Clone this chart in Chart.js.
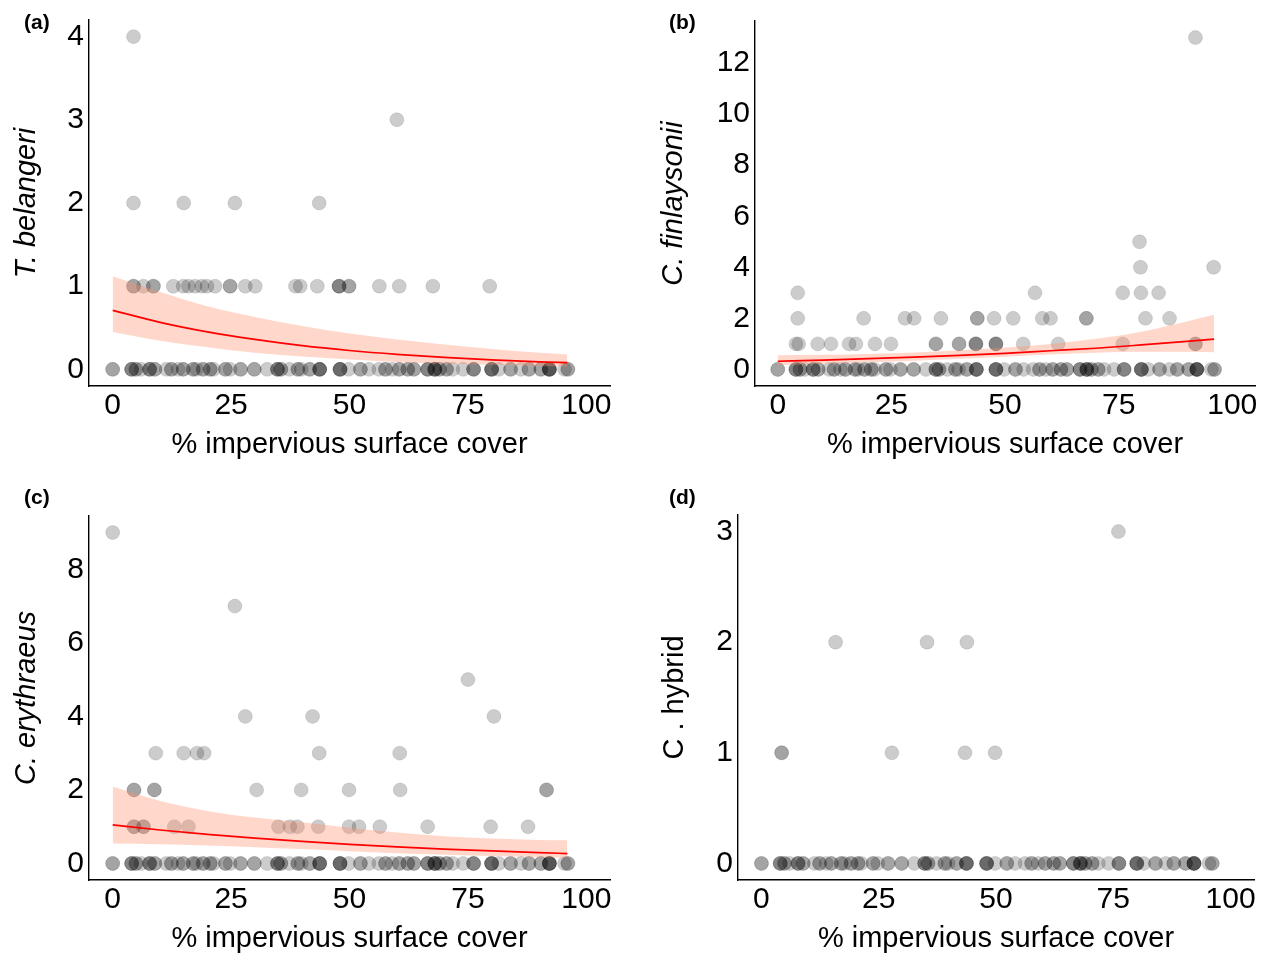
<!DOCTYPE html>
<html><head><meta charset="utf-8">
<script src="https://cdn.jsdelivr.net/npm/chart.js@4.4.1/dist/chart.umd.min.js"></script>
<style>
html,body{margin:0;padding:0;background:#fff;overflow:hidden;width:1266px;height:953px;position:relative;}
canvas{position:absolute;left:0;top:0;}
.lbl{position:absolute;font:bold 21px "Liberation Sans",Arial,sans-serif;line-height:1;color:#000;}
</style></head><body>
<canvas id="pa" width="1266" height="1000"></canvas>
<canvas id="pb" width="1266" height="1000"></canvas>
<canvas id="pc" width="1266" height="1000"></canvas>
<canvas id="pd" width="1266" height="1000"></canvas>
<div class="lbl" style="left:24px;top:11px">(a)</div>
<div class="lbl" style="left:669px;top:11px">(b)</div>
<div class="lbl" style="left:24px;top:486px">(c)</div>
<div class="lbl" style="left:669px;top:486px">(d)</div>
<script>
// ---------- data ----------
const xTicks = [0, 25, 50, 75, 100];
const xTitle = '% impervious surface cover';

// sites with zero count (shared row at y = 0)
const zeroRowX = [0,0, 4.0,4.0,4.0, 4.9,4.9, 6.0, 7.8,7.8,7.8, 8.9,8.9, 11.3, 12.4,12.4, 13.8, 14.9,14.9,
  17.0,17.0, 17.7, 19.1,19.1, 20.6,20.6, 21.3, 23.8,23.8, 24.8, 27.0,27.0, 29.9,29.9, 32.6, 34.8,34.8,34.8,
  35.5,35.5, 37.3, 39.1,39.1, 39.8, 41.6,41.6, 43.7,43.7,43.7,43.7, 48.0,48.0,48.0,48.0, 49.8, 52.3,52.3,
  54.1, 56.2, 57.6,57.6, 59.0, 60.5,60.5, 62.3,62.3, 63.6,63.6, 66.5,66.5,66.5, 68.0,68.0,68.0,68.0,
  69.0,69.0, 70.5,70.5, 71.8, 74.0, 76.2,76.2,76.2, 80.0,80.0,80.0,80.0, 81.5, 84.0,84.0, 86.2,
  87.9,87.9, 90.4,90.4, 92.2,92.2,92.2,92.2,92.2, 95.4, 96.1,96.1];

// (a) T. belangeri
const tbCount1 = [4.4,4.4,6.5,8.6,8.6,12.8,14.9,16,17.4,18.8,19.9,21.6,24.8,24.8,28,30.1,38.6,39.6,43.2,47.8,47.8,47.8,49.9,49.9,56.3,60.5,67.6,79.6];
const tbCount2 = [4.4,15,25.8,43.6];
const tbCount3 = [60];
const tbCount4 = [4.4];
// (b) C. finlaysonii
const cfCount1 = [4.0,4.6,8.8,11.7,15.7,17.2,21.4,24.9,34.8,34.8,39.9,39.9,43.6,43.6,43.6,48.0,48.0,48.0,54.0,61.7,75.9,91.9,91.9];
const cfCount2 = [4.4,18.9,28.0,30.0,35.9,43.9,43.9,47.6,51.8,58.2,60.0,67.9,67.9,80.9,86.2];
const cfCount3 = [4.4,56.6,75.9,79.9,83.8];
const cfCount4 = [79.8,95.9];
const cfCount5 = [79.6];
const cfCount13 = [91.9];
// (c) C. erythraeus
const ceCount1 = [4.5,4.5,6.5,6.5,13,16,35,37.4,39,43.4,49.9,52,56.4,66.5,79.8,87.7];
const ceCount2 = [4.5,4.5,8.8,8.8,30.4,39.8,49.9,60.7,91.6,91.6];
const ceCount3 = [9.1,15,17.8,19.3,43.6,60.6];
const ceCount4 = [28,42.2,80.5];
const ceCount5 = [75];
const ceCount7 = [25.8];
const ceCount9 = [0];
// (d) C. hybrid
const chCount1 = [4.3,4.3,27.8,43.4,49.8];
const chCount2 = [15.8,35.3,43.8];
const chCount3 = [76.1];

// fitted curves with confidence band
const fitX   = [0, 10, 20, 30, 40, 50, 60, 70, 80, 90, 96];
const aFit   = [0.71,0.565,0.45,0.36,0.285,0.227,0.181,0.144,0.115,0.091,0.08];
const aUpper = [1.12,0.93,0.76,0.63,0.52,0.43,0.36,0.30,0.245,0.20,0.18];
const aLower = [0.45,0.345,0.265,0.20,0.155,0.12,0.09,0.07,0.054,0.041,0.035];
const bFit   = [0.32,0.367,0.42,0.48,0.55,0.63,0.73,0.83,0.96,1.10,1.19];
const bUpper = [0.55,0.57,0.60,0.66,0.75,0.86,1.0,1.2,1.48,1.88,2.14];
const bLower = [0.17,0.22,0.28,0.34,0.42,0.5,0.58,0.65,0.69,0.69,0.67];
const cFit   = [1.05,0.91,0.79,0.69,0.6,0.52,0.45,0.39,0.34,0.295,0.27];
const cUpper = [2.09,1.7,1.43,1.25,1.12,0.97,0.84,0.74,0.68,0.64,0.63];
const cLower = [0.54,0.52,0.49,0.44,0.39,0.33,0.28,0.24,0.2,0.17,0.16];

const aYTicks = [0,1,2,3,4];
const bYTicks = [0,2,4,6,8,10,12];
const cYTicks = [0,2,4,6,8];
const dYTicks = [0,1,2,3];

// ---------- helpers ----------
const FONT = '"Liberation Sans", Arial, Helvetica, sans-serif';
Chart.defaults.font.family = FONT;

function buildPoints(levels) {
  const out = zeroRowX.map(x => ({x: x, y: 0}));
  levels.forEach(([count, xs]) => xs.forEach(x => out.push({x: x, y: count})));
  return out;
}
function series(ys) { return fitX.map((x, i) => ({x: x, y: ys[i]})); }

function makePanel(id, area, yMin, yMax, yTicks, yTitle, italic, points, fit) {
  const W = 1266, H = 1000;
  const titleSize = 29, TL = titleSize * 1.2 / 2;
  const scaleLeft = area.tx - TL;
  const yW = area.l - scaleLeft;
  const xH = 59.4 + TL;
  const datasets = [];
  if (fit) {
    datasets.push({data: series(fit.up), borderWidth: 0, borderColor: 'transparent', pointRadius: 0,
      fill: '+1', backgroundColor: 'rgba(255,140,105,0.35)', order: 2, cubicInterpolationMode: 'monotone'});
    datasets.push({data: series(fit.lo), borderWidth: 0, borderColor: 'transparent', pointRadius: 0,
      fill: false, order: 2, cubicInterpolationMode: 'monotone'});
    datasets.push({data: series(fit.mid), borderColor: '#ff0000', borderWidth: 1.7, pointRadius: 0,
      fill: false, order: 1, cubicInterpolationMode: 'monotone'});
  }
  datasets.push({data: points, showLine: false, pointRadius: 7, pointBackgroundColor: 'rgba(0,0,0,0.2)',
    pointBorderColor: 'rgba(0,0,0,0.1)', pointBorderWidth: 1, order: 3});

  new Chart(document.getElementById(id), {
    type: 'line',
    data: {datasets: datasets},
    options: {
      responsive: false, animation: false, devicePixelRatio: 1, events: [],
      layout: {padding: {left: scaleLeft, top: area.t, right: W - area.r, bottom: H - area.b - xH}},
      plugins: {legend: {display: false}, tooltip: {enabled: false}},
      scales: {
        x: {
          type: 'linear', min: -5, max: 105,
          grid: {display: false, drawTicks: false},
          border: {display: true, color: '#000', width: 1.4},
          afterBuildTicks: s => { s.ticks = xTicks.map(v => ({value: v})); },
          afterFit: s => { s.height = xH; },
          ticks: {color: '#000', font: {size: 30, lineHeight: 1}, padding: 5, maxRotation: 0, autoSkip: false},
          title: {display: true, text: xTitle, color: '#000', font: {size: titleSize, lineHeight: 1.2}, padding: 0}
        },
        y: {
          type: 'linear', min: yMin, max: yMax,
          grid: {display: false, drawTicks: false},
          border: {display: true, color: '#000', width: 1.4},
          afterBuildTicks: s => { s.ticks = yTicks.map(v => ({value: v})); },
          afterFit: s => { s.width = yW; },
          ticks: {color: '#000', font: {size: 30, lineHeight: 1}, padding: 5, autoSkip: false},
          title: {display: true, text: yTitle, color: '#000',
            font: {size: titleSize, lineHeight: 1.2, style: italic ? 'italic' : 'normal'}, padding: 0}
        }
      }
    }
  });
}

makePanel('pa', {l: 89, r: 610, t: 20, b: 386, tx: 27}, -0.2, 4.2, aYTicks, 'T. belangeri', true,
  buildPoints([[1, tbCount1], [2, tbCount2], [3, tbCount3], [4, tbCount4]]),
  {mid: aFit, up: aUpper, lo: aLower});
makePanel('pb', {l: 755, r: 1255, t: 21, b: 386, tx: 674}, -0.65, 13.65, bYTicks, 'C. finlaysonii', true,
  buildPoints([[1, cfCount1], [2, cfCount2], [3, cfCount3], [4, cfCount4], [5, cfCount5], [13, cfCount13]]),
  {mid: bFit, up: bUpper, lo: bLower});
makePanel('pc', {l: 89, r: 610, t: 516, b: 880, tx: 27}, -0.45, 9.45, cYTicks, 'C. erythraeus', true,
  buildPoints([[1, ceCount1], [2, ceCount2], [3, ceCount3], [4, ceCount4], [5, ceCount5], [7, ceCount7], [9, ceCount9]]),
  {mid: cFit, up: cUpper, lo: cLower});
makePanel('pd', {l: 738, r: 1254, t: 515, b: 880, tx: 675}, -0.15, 3.15, dYTicks, 'C . hybrid', false,
  buildPoints([[1, chCount1], [2, chCount2], [3, chCount3]]),
  null);
</script>
</body></html>
